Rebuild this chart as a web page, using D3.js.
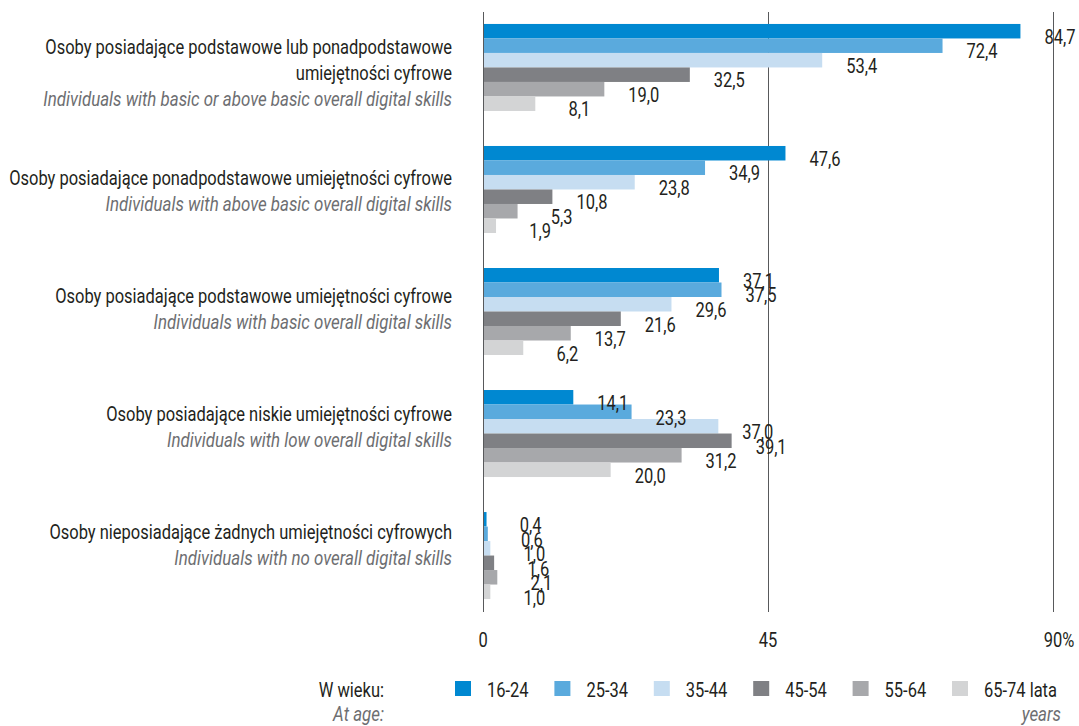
<!DOCTYPE html>
<html>
<head>
<meta charset="utf-8">
<script src="https://cdn.jsdelivr.net/npm/d3@7"></script>
<style>
  body { margin: 0; background: #fff; }
  svg { display: block; }
  text { font-family: Roboto, "Liberation Sans", sans-serif; font-size: 20px; fill: #231f20; }
  .en { font-style: italic; fill: #6d6e71; }
</style>
</head>
<body>
<div class="chart-box"></div>
<script>
// dane
var categoriesPl = [
  ["Osoby posiadające podstawowe lub ponadpodstawowe", "umiejętności cyfrowe"],
  ["Osoby posiadające ponadpodstawowe umiejętności cyfrowe"],
  ["Osoby posiadające podstawowe umiejętności cyfrowe"],
  ["Osoby posiadające niskie umiejętności cyfrowe"],
  ["Osoby nieposiadające żadnych umiejętności cyfrowych"]
];
var categoriesEn = [
  "Individuals with basic or above basic overall digital skills",
  "Individuals with above basic overall digital skills",
  "Individuals with basic overall digital skills",
  "Individuals with low overall digital skills",
  "Individuals with no overall digital skills"
];
var ageGroups = ["16-24", "25-34", "35-44", "45-54", "55-64", "65-74"];
var legendLabels = ["16-24", "25-34", "35-44", "45-54", "55-64", "65-74 lata"];

var v16_24 = [84.7, 47.6, 37.1, 14.1, 0.4];
var v25_34 = [72.4, 34.9, 37.5, 23.3, 0.6];
var v35_44 = [53.4, 23.8, 29.6, 37.0, 1.0];
var v45_54 = [32.5, 10.8, 21.6, 39.1, 1.6];
var v55_64 = [19.0, 5.3, 13.7, 31.2, 2.1];
var v65_74 = [8.1, 1.9, 6.2, 20.0, 1.0];
var seriesValues = [v16_24, v25_34, v35_44, v45_54, v55_64, v65_74];

var tickValues = [0, 45, 90];
var colors = ["#0088d1", "#5aaadd", "#c6ddf1", "#7f8084", "#a7a8ab", "#d3d4d5"];

var width = 1079, height = 726;
var catIdx = d3.range(categoriesEn.length);

var svg = d3.select(".chart-box").append("svg")
    .attr("width", width)
    .attr("height", height);

// wąski krój: zwężamy Roboto tak, by najdłuższy opis miał szerokość jak w oryginale
var probe = svg.append("text").text(categoriesPl[1][0]);
var condense = 443 / probe.node().getComputedTextLength();
probe.remove();
var probeEn = svg.append("text").attr("class", "en").text(categoriesEn[0]);
var condenseEn = 409 / probeEn.node().getComputedTextLength();
probeEn.remove();

function label(parent, px, py, str, anchor, cls) {
  var k = cls === "en" ? condenseEn : condense;
  return parent.append("text")
    .attr("transform", "translate(" + px + "," + py + ") scale(" + k + ",1)")
    .attr("text-anchor", anchor || "start")
    .attr("class", cls || null)
    .text(str);
}

var x = d3.scaleLinear().domain([0, 90]).range([483, 1053]);

var y = d3.scaleBand()
    .domain(catIdx)
    .range([12, 611])
    .paddingInner(0.287)
    .paddingOuter(0.098);

var yInner = d3.scaleBand()
    .domain(d3.range(ageGroups.length))
    .range([0, y.bandwidth()]);

// pozycje opisów kategorii
var labelY = d3.scalePoint().domain(catIdx).range([73, 545]);

var pl = d3.formatLocale({ decimal: ",", thousands: " ", grouping: [3], currency: ["", " zł"] });
var fmt = pl.format(".1f");

// linie siatki
svg.append("g")
  .selectAll("line")
  .data(tickValues)
  .enter().append("line")
    .attr("x1", function(d) { return x(d) + 0.5; })
    .attr("x2", function(d) { return x(d) + 0.5; })
    .attr("y1", 12)
    .attr("y2", 612)
    .attr("stroke", "#58595b")
    .attr("stroke-width", 1);

// słupki
var groups = svg.append("g")
  .selectAll("g")
  .data(catIdx)
  .enter().append("g")
    .attr("transform", function(c) { return "translate(0," + y(c) + ")"; });

groups.selectAll("rect")
  .data(function(c) { return seriesValues.map(function(s, i) { return { s: i, v: s[c] }; }); })
  .enter().append("rect")
    .attr("x", x(0) + 1)
    .attr("y", function(d) { return yInner(d.s); })
    .attr("width", function(d) { return Math.max(0, x(d.v) - x(0)); })
    .attr("height", yInner.bandwidth())
    .attr("fill", function(d) { return colors[d.s]; });

// etykiety wartości: wyrównane do prawej, przesunięte w dół o pół słupka
groups.each(function(c) {
  var g = d3.select(this);
  seriesValues.forEach(function(s, i) {
    label(g, x(s[c]) + 56, yInner(i) + yInner.bandwidth() + 5.5, fmt(s[c]), "end");
  });
});

// opisy kategorii
var labels = svg.append("g");
catIdx.forEach(function(c) {
  var lines = categoriesPl[c].map(function(t) { return { t: t, en: false }; })
      .concat([{ t: categoriesEn[c], en: true }]);
  var n = lines.length;
  lines.forEach(function(l, i) {
    label(labels, 452, labelY(c) + (i - (n - 1) / 2) * 26 + 7, l.t, "end", l.en ? "en" : null);
  });
});

// oś X
var axis = svg.append("g");
tickValues.forEach(function(d) {
  var t = label(axis, x(d), 647, d, "middle");
  if (d === 90) {
    var w = t.node().getComputedTextLength() * condense;
    t.remove();
    label(axis, x(d) - w / 2, 647, "90%", "start");
  }
});

// legenda
var legend = svg.append("g");
label(legend, 384, 697, "W wieku:", "end");
label(legend, 384, 721, "At age:", "end", "en");

var lx = d3.scalePoint().domain(d3.range(ageGroups.length)).range([455, 952]);

var item = legend.selectAll("g.item")
  .data(d3.range(ageGroups.length))
  .enter().append("g")
    .attr("class", "item")
    .attr("transform", function(i) { return "translate(" + lx(i) + ",681)"; });

item.append("rect")
    .attr("width", 16)
    .attr("height", 15)
    .attr("fill", function(i) { return colors[i]; });

item.each(function(i) {
  label(d3.select(this), 32, 16, legendLabels[i]);
});

label(legend, 1061, 721, "years", "end", "en");
</script>
</body>
</html>
